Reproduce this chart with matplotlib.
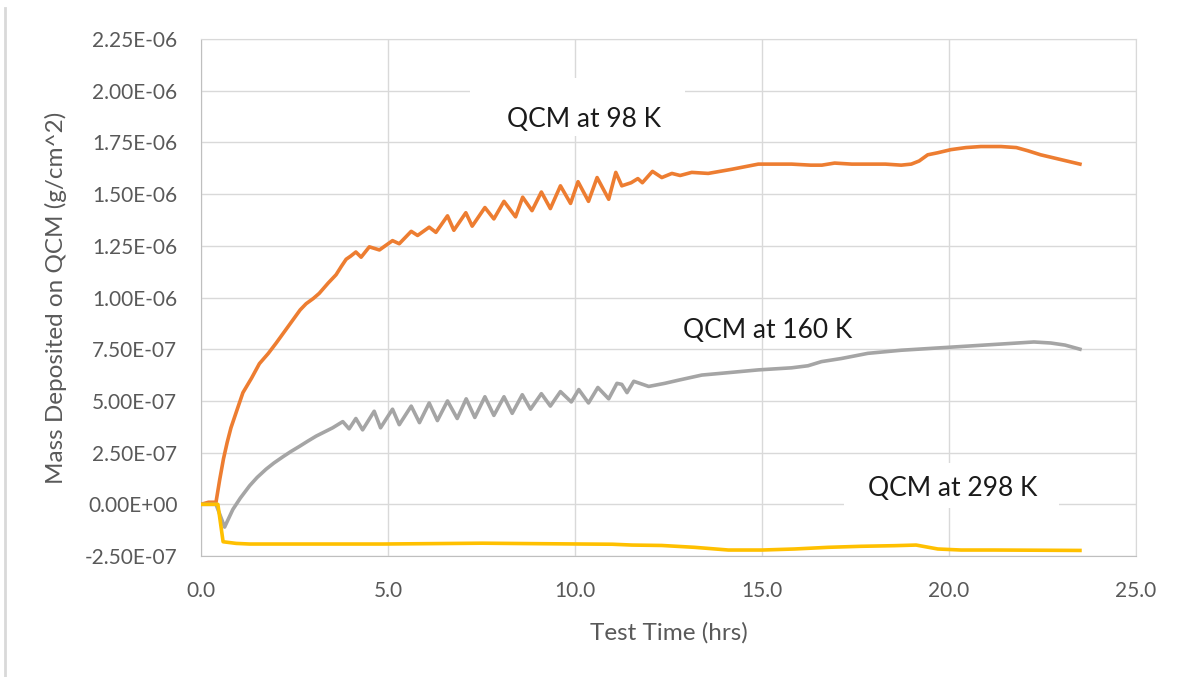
import matplotlib
matplotlib.use("Agg")
import matplotlib.pyplot as plt
from matplotlib.patches import Rectangle
from matplotlib.lines import Line2D
from matplotlib.ticker import FormatStrFormatter

# *
# Data (time in hrs, mass in units of 1e-7 g/cm^2)
# *
t98 = [0.0, 0.2, 0.4, 0.5, 0.6, 0.7, 0.8, 0.95, 1.12, 1.35, 1.56, 1.8, 2.01, 2.25, 2.45,
       2.65, 2.81, 3.0, 3.16, 3.4, 3.61, 3.75, 3.88, 4.0, 4.14, 4.28, 4.5, 4.77, 5.12, 5.3,
       5.62, 5.79, 6.1, 6.28, 6.59, 6.76, 7.08, 7.25, 7.59, 7.83, 8.1, 8.41, 8.6, 8.85, 9.1,
       9.34, 9.61, 9.88, 10.08, 10.36, 10.59, 10.9, 11.09, 11.25, 11.5, 11.68, 11.8, 12.07,
       12.32, 12.59, 12.81, 13.12, 13.56, 14.19, 14.9, 15.4, 15.79, 16.3, 16.6, 16.94, 17.4,
       17.83, 18.3, 18.72, 18.99, 19.2, 19.43, 19.7, 20.05, 20.45, 20.85, 21.39, 21.8, 22.1,
       22.45, 22.8, 23.15, 23.5]
m98 = [0, 0.1, 0.1, 1.2, 2.2, 3.0, 3.7, 4.5, 5.4, 6.1, 6.8, 7.3, 7.8, 8.4, 8.9,
       9.4, 9.7, 9.95, 10.2, 10.7, 11.1, 11.5, 11.85, 12.0, 12.2, 11.95, 12.45, 12.3, 12.75, 12.6,
       13.2, 13.0, 13.4, 13.15, 13.95, 13.25, 14.1, 13.45, 14.35, 13.8, 14.65, 13.9, 14.85, 14.2, 15.1,
       14.3, 15.4, 14.55, 15.6, 14.65, 15.8, 14.75, 16.05, 15.4, 15.55, 15.75, 15.55, 16.1,
       15.8, 16.0, 15.9, 16.05, 16.0, 16.2, 16.45, 16.45, 16.45, 16.4, 16.4, 16.5, 16.45,
       16.45, 16.45, 16.4, 16.45, 16.6, 16.9, 17.0, 17.15, 17.25, 17.3, 17.3, 17.25, 17.1,
       16.9, 16.75, 16.6, 16.45]

t160 = [0.0, 0.4, 0.63, 0.85, 1.05, 1.3, 1.5, 1.74, 1.95, 2.19, 2.4, 2.63, 2.85, 3.08, 3.3,
        3.52, 3.79, 3.96, 4.14, 4.32, 4.63, 4.8, 5.12, 5.3, 5.62, 5.84, 6.1, 6.32, 6.59, 6.85,
        7.09, 7.32, 7.59, 7.83, 8.1, 8.32, 8.59, 8.81, 9.1, 9.34, 9.61, 9.9, 10.1, 10.36, 10.61,
        10.9, 11.12, 11.25, 11.39, 11.57, 11.97, 12.4, 12.76, 13.39, 14.0, 14.9, 15.79, 16.23,
        16.59, 17.12, 17.83, 18.72, 19.61, 20.5, 21.39, 22.27, 22.72, 23.1, 23.5]
m160 = [0, 0, -1.1, -0.25, 0.3, 0.9, 1.3, 1.7, 2.0, 2.3, 2.55, 2.8, 3.05, 3.3, 3.5,
        3.7, 4.0, 3.65, 4.15, 3.6, 4.5, 3.7, 4.6, 3.85, 4.75, 3.95, 4.9, 4.05, 5.0, 4.15,
        5.1, 4.2, 5.2, 4.3, 5.2, 4.4, 5.3, 4.6, 5.35, 4.75, 5.45, 4.95, 5.55, 4.9, 5.65,
        5.1, 5.85, 5.8, 5.4, 5.95, 5.7, 5.85, 6.0, 6.25, 6.35, 6.5, 6.6, 6.7,
        6.9, 7.05, 7.3, 7.45, 7.55, 7.65, 7.75, 7.85, 7.8, 7.7, 7.5]

t298 = [0.0, 0.45, 0.59, 0.94, 1.3, 3.0, 4.85, 6.2, 7.52, 8.8, 10.19, 11.0, 11.52, 12.32,
        13.2, 14.1, 15.0, 15.87, 16.76, 17.65, 18.54, 19.12, 19.7, 20.32, 21.2, 22.4, 23.5]
m298 = [0, 0, -1.81, -1.89, -1.92, -1.92, -1.92, -1.9, -1.88, -1.9, -1.92, -1.93, -1.97, -1.99,
        -2.08, -2.21, -2.21, -2.16, -2.08, -2.03, -2.0, -1.97, -2.16, -2.21, -2.21, -2.22, -2.23]

xticks = [0, 5, 10, 15, 20, 25]
yticks = [-2.5e-7, 0, 2.5e-7, 5e-7, 7.5e-7, 1e-6, 1.25e-6, 1.5e-6, 1.75e-6, 2e-6, 2.25e-6]

series = [("QCM at 98 K", t98, m98, "#ED7D31"),
          ("QCM at 160 K", t160, m160, "#A5A5A5"),
          ("QCM at 298 K", t298, m298, "#FFC000")]

plt.rcParams['font.family'] = ['Lato', 'DejaVu Sans']

fig = plt.figure(figsize=(11.77, 6.77), dpi=100)
ax = fig.add_axes([0.1708, 0.1787, 0.7944, 0.7637])

for name, t, m, col in series:
    ax.plot(t, [v * 1e-7 for v in m], color=col, lw=2.6, solid_joinstyle='round', zorder=3)

# *
# Axes, ticks, grid
# *
ax.set_xlim(0, 25)
ax.set_ylim(-2.5e-7, 2.25e-6)
ax.set_xticks(xticks)
ax.set_yticks(yticks)
ax.xaxis.set_major_formatter(FormatStrFormatter('%.1f'))
ax.yaxis.set_major_formatter(FormatStrFormatter('%.2E'))
ax.tick_params(length=0, labelsize=15, labelcolor='#595959')
ax.tick_params(axis='y', pad=17)
ax.tick_params(axis='x', pad=18)
ax.grid(True, color='#d9d9d9', lw=1)
ax.set_axisbelow(True)
for s in ax.spines.values():
    s.set_color('#d9d9d9')
ax.spines['left'].set_color('#bfbfbf')
ax.spines['bottom'].set_color('#bfbfbf')

ax.set_xlabel("Test Time (hrs)", fontsize=17.5, color='#595959')
ax.set_ylabel("Mass Deposited on QCM (g/cm^2)", fontsize=17.5, color='#595959')
ax.xaxis.set_label_coords(0.5, -0.128)
ax.yaxis.set_label_coords(-0.143, 0.5)

# *
# Series labels (two of them sit on white boxes that hide the grid)
# *
ax.add_patch(Rectangle((7.2, 1.78e-6), 5.73, 0.28e-6, facecolor='white', edgecolor='none', zorder=1))
ax.add_patch(Rectangle((17.2, -0.2e-7), 5.73, 2.2e-7, facecolor='white', edgecolor='none', zorder=1))
ax.text(10.24, 1.861e-6, "QCM at 98 K", fontsize=19, color='#1a1a1a', ha='center', va='center', zorder=4)
ax.text(15.15, 8.41e-7, "QCM at 160 K", fontsize=19, color='#1a1a1a', ha='center', va='center', zorder=4)
ax.text(20.1, 0.77e-7, "QCM at 298 K", fontsize=19, color='#1a1a1a', ha='center', va='center', zorder=4)

# light frame line on the left side of the picture
fig.add_artist(Line2D([0.0045, 0.0045], [0.0, 0.988], color='#d9d9d9', lw=2))

fig.savefig("out.png", dpi=100)
